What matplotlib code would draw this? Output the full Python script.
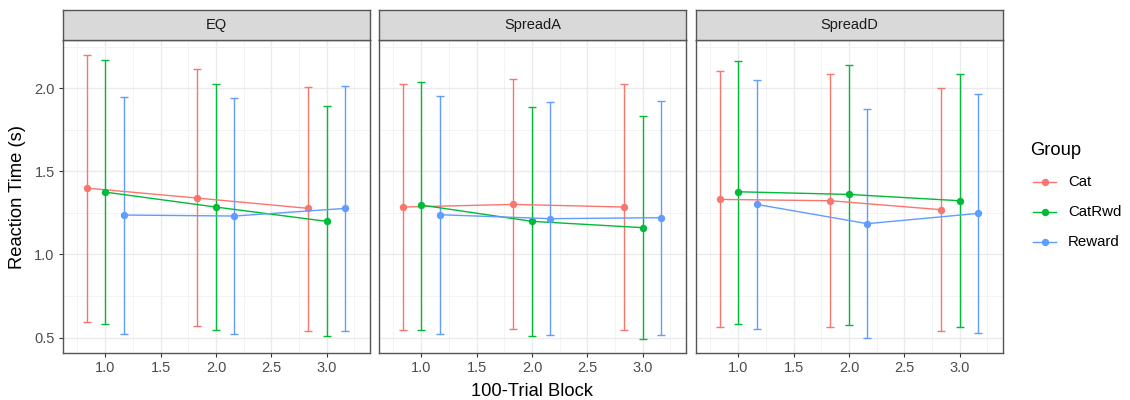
import matplotlib
matplotlib.use("Agg")
import matplotlib.pyplot as plt
from matplotlib.lines import Line2D
import numpy as np

plt.rcParams["font.family"] = ["Liberation Sans", "DejaVu Sans"]

panels = ["EQ", "SpreadA", "SpreadD"]
groups = ["Cat", "CatRwd", "Reward"]
blocks = [1, 2, 3]
colors = {"Cat": "#F8766D", "CatRwd": "#00BA38", "Reward": "#619CFF"}
dodge = {"Cat": -0.167, "CatRwd": 0.0, "Reward": 0.167}

# mean, upper, lower per panel / group / block
mean = {
    "EQ": {"Cat": [1.399, 1.339, 1.277], "CatRwd": [1.375, 1.285, 1.199], "Reward": [1.237, 1.231, 1.277]},
    "SpreadA": {"Cat": [1.285, 1.301, 1.285], "CatRwd": [1.297, 1.199, 1.161], "Reward": [1.239, 1.215, 1.221]},
    "SpreadD": {"Cat": [1.331, 1.323, 1.269], "CatRwd": [1.377, 1.361, 1.323], "Reward": [1.301, 1.185, 1.247]},
}
upper = {
    "EQ": {"Cat": [2.202, 2.116, 2.006], "CatRwd": [2.170, 2.024, 1.892], "Reward": [1.946, 1.940, 2.016]},
    "SpreadA": {"Cat": [2.026, 2.056, 2.026], "CatRwd": [2.040, 1.886, 1.832], "Reward": [1.956, 1.918, 1.926]},
    "SpreadD": {"Cat": [2.102, 2.086, 2.002], "CatRwd": [2.162, 2.140, 2.086], "Reward": [2.048, 1.872, 1.964]},
}
lower = {
    "EQ": {"Cat": [0.592, 0.570, 0.538], "CatRwd": [0.584, 0.546, 0.508], "Reward": [0.524, 0.524, 0.538]},
    "SpreadA": {"Cat": [0.546, 0.554, 0.546], "CatRwd": [0.546, 0.508, 0.492], "Reward": [0.524, 0.516, 0.516]},
    "SpreadD": {"Cat": [0.562, 0.562, 0.538], "CatRwd": [0.584, 0.576, 0.562], "Reward": [0.554, 0.500, 0.530]},
}

W, H = 1130, 400
fig = plt.figure(figsize=(W / 100, H / 100), dpi=100)
fig.patch.set_facecolor("white")

lefts = [63, 379, 696]
pw = 307
ptop, pbot = 40, 353
stop = 10

for i, p in enumerate(panels):
    ax = fig.add_axes([lefts[i] / W, (H - pbot) / H, pw / W, (pbot - ptop) / H])
    ax.set_xlim(0.62, 3.39)
    ax.set_ylim(0.407, 2.29)
    ax.set_xticks([1.0, 1.5, 2.0, 2.5, 3.0])
    ax.set_xticks([0.75, 1.25, 1.75, 2.25, 2.75, 3.25], minor=True)
    ax.set_yticks([0.5, 1.0, 1.5, 2.0])
    ax.set_yticks([0.75, 1.25, 1.75, 2.25], minor=True)
    ax.grid(True, which="major", color="#EBEBEB", lw=1.0)
    ax.grid(True, which="minor", color="#F3F3F3", lw=0.7)
    ax.set_axisbelow(True)
    for s in ax.spines.values():
        s.set_color("#555555")
        s.set_linewidth(1.0)
    ax.tick_params(which="minor", length=0)
    ax.tick_params(axis="x", which="major", length=3, color="#333333", labelsize=10.5,
                   labelcolor="#4D4D4D", pad=3)
    if i == 0:
        ax.tick_params(axis="y", which="major", length=3, color="#333333", labelsize=10.5,
                       labelcolor="#4D4D4D", pad=3)
        ax.set_yticklabels(["0.5", "1.0", "1.5", "2.0"])
    else:
        ax.tick_params(axis="y", which="major", length=0, labelleft=False)
    ax.set_xticklabels(["1.0", "1.5", "2.0", "2.5", "3.0"])
    for g in groups:
        x = np.array(blocks) + dodge[g]
        m = np.array(mean[p][g])
        up = np.array(upper[p][g])
        lo = np.array(lower[p][g])
        ax.errorbar(x, m, yerr=[m - lo, up - m], fmt="none", ecolor=colors[g],
                    elinewidth=1.0, capsize=2.6, capthick=1.0, zorder=2)
        ax.plot(x, m, color=colors[g], lw=1.0, marker="o", ms=4.3, zorder=3)
    # strip
    sax = fig.add_axes([lefts[i] / W, (H - ptop) / H, pw / W, (ptop - stop) / H])
    sax.set_facecolor("#D9D9D9")
    sax.set_xticks([])
    sax.set_yticks([])
    for s in sax.spines.values():
        s.set_color("#555555")
        s.set_linewidth(1.0)
    sax.text(0.5, 0.5, p, ha="center", va="center", fontsize=10.5, color="#1A1A1A",
             transform=sax.transAxes)

fig.text(532 / W, 1 - 391 / H, "100-Trial Block", ha="center", va="center", fontsize=13.2, color="black")
fig.text(18 / W, 1 - 197 / H, "Reaction Time (s)", ha="center", va="center", rotation=90,
         fontsize=13.2, color="black")

# legend (manual layout)
fig.text(1030 / W, 1 - 151 / H, "Group", ha="left", va="center", fontsize=13.2, color="black")
ys = [182, 212, 242]
for g, yy in zip(groups, ys):
    fy = 1 - yy / H
    fig.add_artist(Line2D([1033 / W, 1056 / W], [fy, fy], color=colors[g], lw=1.0,
                          transform=fig.transFigure))
    fig.add_artist(Line2D([1044.5 / W], [fy], color=colors[g], marker="o", ms=4.3, lw=0,
                          transform=fig.transFigure))
    fig.text(1068 / W, fy, g, ha="left", va="center", fontsize=10.8, color="black")

fig.savefig("out.png", dpi=100, facecolor="white")
